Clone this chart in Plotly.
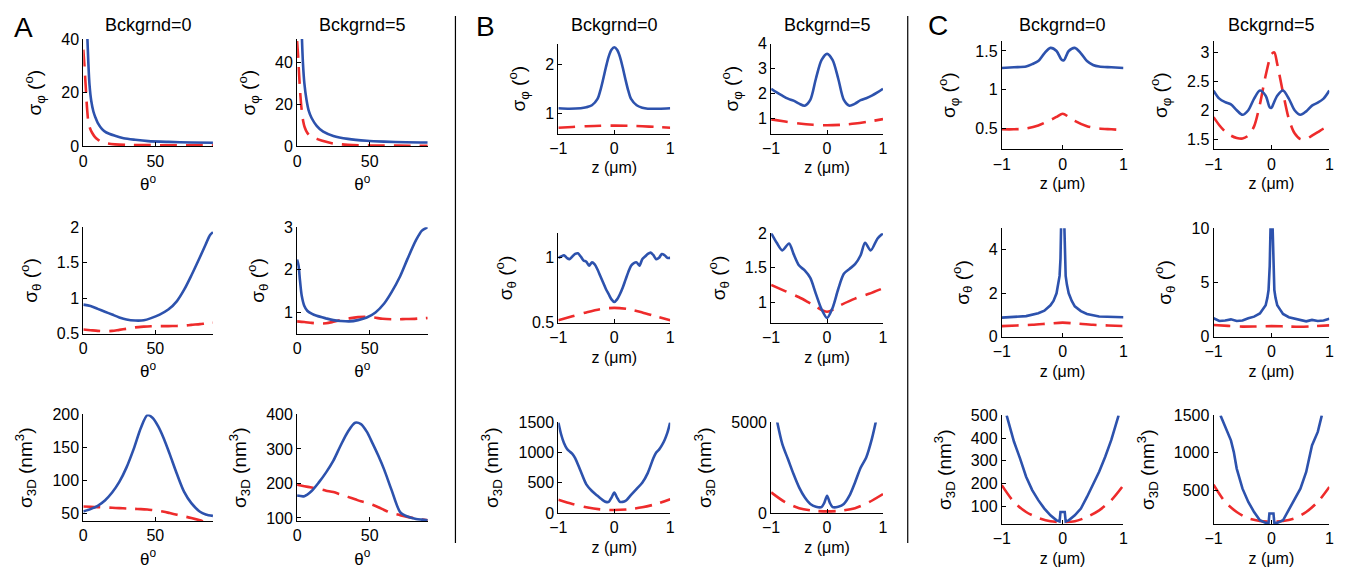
import plotly.graph_objects as go

# ---------------- DATA ----------------
# Panel A : x = theta (deg)
A_th_grid = [0, 5, 10, 15, 20, 25, 30, 36, 42, 47, 53, 59, 65, 70, 75, 81, 85, 88, 90]

A_phi0_blue_x = [2.7, 3.5, 4.3, 5.5, 7, 8.4, 10, 13, 16, 22, 28, 36, 45, 59, 75, 90]
A_phi0_blue_y = [42, 31, 23, 17, 13, 10.8, 8.8, 6.5, 5.2, 4.0, 3.1, 2.5, 2.0, 1.7, 1.5, 1.4]
A_phi0_red_x = [0, 0.8, 1.6, 2.5, 3.4, 4.5, 6, 8, 10, 13, 17, 22, 30, 45, 60, 75, 90]
A_phi0_red_y = [36, 30, 23, 15, 9.6, 7, 5.2, 3.6, 2.6, 1.6, 1.1, 0.8, 0.6, 0.5, 0.45, 0.4, 0.4]

A_phi5_blue_x = [3.3, 4, 5, 6.5, 8, 10, 13.5, 18, 25, 35, 48, 60, 75, 90]
A_phi5_blue_y = [52, 40, 30, 22, 17, 13.5, 9.8, 7.0, 5.0, 3.6, 2.7, 2.3, 2.0, 1.9]
A_phi5_red_x = [0, 0.7, 1.4, 2.2, 3.2, 4.2, 5.3, 7, 9, 14, 20, 25, 35, 50, 70, 90]
A_phi5_red_y = [50, 43, 34, 25, 17, 12, 9, 6.5, 5, 3.5, 2.2, 1.4, 0.8, 0.5, 0.4, 0.35]

A_the0_blue = [0.91, 0.89, 0.85, 0.81, 0.77, 0.73, 0.70, 0.686, 0.69, 0.72, 0.77, 0.84,
               0.96, 1.12, 1.32, 1.58, 1.76, 1.89, 1.93]
A_the0_red = [0.56, 0.55, 0.54, 0.535, 0.54, 0.555, 0.57, 0.59, 0.60, 0.605, 0.607, 0.607,
              0.61, 0.615, 0.625, 0.635, 0.645, 0.65, 0.655]

A_the5_blue_x = [0, 1, 2, 3.2, 5, 7, 10, 13.5, 20, 25, 30, 36, 42, 48, 54, 60, 65, 71, 76, 82, 86, 90]
A_the5_blue_y = [2.24, 2.1, 1.75, 1.39, 1.15, 1.04, 0.97, 0.92, 0.86, 0.82, 0.80, 0.79, 0.82,
                 0.88, 1.0, 1.21, 1.47, 1.85, 2.25, 2.7, 2.92, 3.0]
A_the5_red = [0.79, 0.775, 0.755, 0.74, 0.745, 0.78, 0.82, 0.86, 0.89, 0.9, 0.88, 0.85,
              0.84, 0.84, 0.845, 0.85, 0.86, 0.865, 0.87]

A_3d_x = [0, 5, 10, 15, 20, 25, 30, 35, 40, 44.5, 48, 52, 56, 60, 65, 70, 75, 81, 85, 90]
A_3d0_blue = [53.5, 57, 62, 70, 82, 98, 120, 148, 180, 199, 195, 182, 163, 140, 110, 83, 66, 53, 49, 46.7]
A_3d0_red = [61, 60.5, 60, 59.5, 59, 58.5, 58, 57.5, 57, 56.3, 55.5, 54.5, 53, 51, 48.5, 46, 43.5, 40, 37, 35]

A_3d5_x = [0, 5, 10, 15, 20, 25, 30, 35, 40, 44, 48, 52, 56, 60, 65, 71, 76, 82, 86, 90]
A_3d5_blue = [165, 163, 178, 203, 232, 266, 310, 350, 376, 372, 350, 316, 280, 240, 182, 117, 104, 97, 95, 93]
A_3d5_red = [196, 192, 188, 184, 179, 175, 168, 161, 154, 148, 144, 138, 131, 123, 114, 108, 103, 98, 95, 93]

# Panels B and C : x = z (um)
Z_red9 = [-1, -0.75, -0.5, -0.25, 0, 0.25, 0.5, 0.75, 1]
Z_red11 = [-1, -0.8, -0.6, -0.4, -0.2, 0, 0.2, 0.4, 0.6, 0.8, 1]

B_phi0_z = [-1, -0.8, -0.6, -0.5, -0.4, -0.3, -0.25, -0.2, -0.15, -0.1, -0.05, 0,
            0.05, 0.1, 0.15, 0.2, 0.25, 0.3, 0.4, 0.5, 0.6, 0.8, 1]
B_phi0_blue = [1.11, 1.1, 1.11, 1.13, 1.17, 1.3, 1.47, 1.7, 1.95, 2.17, 2.31, 2.36,
               2.31, 2.17, 1.95, 1.7, 1.47, 1.3, 1.17, 1.12, 1.1, 1.1, 1.11]
B_phi0_red = [0.71, 0.725, 0.74, 0.75, 0.752, 0.75, 0.74, 0.725, 0.71]

B_phi5_z = [-1, -0.9, -0.8, -0.7, -0.6, -0.5, -0.4, -0.3, -0.2, -0.1, 0,
            0.1, 0.2, 0.3, 0.4, 0.5, 0.6, 0.7, 0.8, 0.9, 1]
B_phi5_blue = [2.2, 2.05, 1.92, 1.8, 1.72, 1.6, 1.52, 1.75, 2.6, 3.35, 3.6,
               3.35, 2.6, 1.75, 1.52, 1.6, 1.74, 1.82, 1.92, 2.05, 2.2]
B_phi5_red = [0.97, 0.88, 0.8, 0.75, 0.73, 0.75, 0.8, 0.88, 0.98]

B_the0_z = [-1, -0.95, -0.9, -0.85, -0.8, -0.75, -0.7, -0.65, -0.6, -0.55, -0.5, -0.45,
            -0.4, -0.35, -0.3, -0.25, -0.2, -0.15, -0.1, -0.05, 0, 0.05, 0.1, 0.15, 0.2,
            0.25, 0.3, 0.35, 0.4, 0.45, 0.5, 0.55, 0.6, 0.65, 0.7, 0.75, 0.8, 0.85, 0.9, 0.95, 1]
B_the0_blue = [1.0, 1.01, 1.02, 1.0, 0.99, 1.01, 1.03, 1.035, 1.01, 0.98, 0.97, 0.94,
               0.965, 0.95, 0.91, 0.86, 0.81, 0.76, 0.72, 0.68, 0.66, 0.68, 0.72, 0.77, 0.83,
               0.89, 0.94, 0.96, 0.965, 0.94, 0.99, 1.01, 1.03, 1.04, 1.02, 0.99, 1.0, 1.03,
               1.02, 1.0, 1.0]
B_the0_red = [0.52, 0.55, 0.58, 0.605, 0.615, 0.605, 0.58, 0.55, 0.52]

B_the5_z = [-1, -0.9, -0.8, -0.68, -0.6, -0.5, -0.4, -0.3, -0.2, -0.1, 0,
            0.1, 0.2, 0.3, 0.4, 0.5, 0.6, 0.68, 0.78, 0.9, 1]
B_the5_blue = [2.0, 1.86, 1.75, 1.85, 1.7, 1.53, 1.46, 1.35, 1.12, 0.9, 0.77,
               0.92, 1.19, 1.41, 1.48, 1.55, 1.68, 1.86, 1.75, 1.92, 2.0]
B_the5_red = [1.25, 1.16, 1.07, 0.96, 0.86, 0.96, 1.05, 1.12, 1.2]

B_3d0_z = [-1, -0.95, -0.9, -0.85, -0.8, -0.75, -0.7, -0.6, -0.5, -0.4, -0.3, -0.2, -0.15,
           -0.1, -0.05, 0, 0.05, 0.1, 0.15, 0.2, 0.3, 0.4, 0.5, 0.6, 0.7, 0.75, 0.8, 0.85,
           0.9, 0.95, 1]
B_3d0_blue = [1500, 1300, 1160, 1070, 1020, 980, 910, 690, 475, 365, 285, 210, 185,
              185, 255, 340, 255, 185, 185, 200, 300, 400, 500, 665, 910, 1000, 1050, 1120,
              1210, 1330, 1500]
B_3d0_red = [220, 150, 95, 60, 50, 60, 95, 150, 230]

B_3d5_z = [-0.9, -0.8, -0.7, -0.6, -0.5, -0.4, -0.3, -0.2, -0.1, -0.05, 0, 0.05, 0.1,
           0.2, 0.3, 0.4, 0.5, 0.6, 0.7, 0.8, 0.88]
B_3d5_blue = [5150, 3800, 2980, 2150, 1415, 865, 500, 350, 330, 560, 950, 560, 330,
              350, 500, 955, 1690, 2500, 3070, 4080, 5150]
B_3d5_red = [1140, 600, 270, 130, 90, 130, 270, 600, 1050]

C_phi0_z = [-1, -0.8, -0.6, -0.5, -0.4, -0.3, -0.2, -0.1, -0.02, 0.02, 0.1, 0.2, 0.3,
            0.4, 0.5, 0.6, 0.8, 1]
C_phi0_blue = [1.28, 1.29, 1.30, 1.33, 1.37, 1.47, 1.54, 1.50, 1.39, 1.38, 1.50, 1.54,
               1.47, 1.37, 1.32, 1.30, 1.29, 1.28]
C_phi0_red_z = [-1, -0.8, -0.6, -0.4, -0.2, -0.1, 0, 0.1, 0.2, 0.4, 0.6, 0.8, 1]
C_phi0_red = [0.49, 0.49, 0.5, 0.54, 0.61, 0.65, 0.69, 0.65, 0.6, 0.53, 0.5, 0.49, 0.48]

C_phi5_z = [-1, -0.9, -0.8, -0.7, -0.6, -0.5, -0.4, -0.3, -0.2, -0.1, -0.03, 0, 0.03,
            0.1, 0.2, 0.3, 0.4, 0.5, 0.6, 0.7, 0.8, 0.9, 1]
C_phi5_blue = [2.34, 2.2, 2.14, 2.1, 2.0, 1.92, 2.0, 2.2, 2.34, 2.25, 2.05, 2.04, 2.1,
               2.25, 2.34, 2.2, 2.0, 1.92, 1.98, 2.08, 2.13, 2.2, 2.34]
C_phi5_red_z = [-1, -0.9, -0.8, -0.7, -0.6, -0.5, -0.4, -0.3, -0.2, -0.1, 0, 0.05, 0.1,
                0.2, 0.3, 0.4, 0.5, 0.6, 0.7, 0.8, 0.9, 1]
C_phi5_red = [1.88, 1.74, 1.63, 1.56, 1.52, 1.51, 1.56, 1.72, 2.1, 2.6, 2.97, 3.0, 2.8,
              2.3, 1.85, 1.6, 1.5, 1.5, 1.56, 1.62, 1.68, 1.72]

C_the0_z = [-1, -0.8, -0.6, -0.4, -0.3, -0.2, -0.15, -0.1, -0.07, -0.05, -0.035, -0.02, 0,
            0.02, 0.035, 0.05, 0.07, 0.1, 0.15, 0.2, 0.3, 0.4, 0.6, 0.8, 1]
C_the0_blue = [0.88, 0.9, 0.95, 1.08, 1.2, 1.45, 1.65, 2.0, 2.4, 2.8, 3.6, 6, 9,
               6, 3.6, 2.8, 2.4, 2.0, 1.65, 1.4, 1.18, 1.05, 0.93, 0.9, 0.9]
C_the0_red = [0.49, 0.52, 0.55, 0.6, 0.65, 0.6, 0.55, 0.52, 0.49]

C_the5_z = [-1, -0.9, -0.8, -0.7, -0.6, -0.5, -0.4, -0.3, -0.2, -0.15, -0.1, -0.07, -0.05,
            -0.03, -0.015, 0, 0.015, 0.03, 0.05, 0.07, 0.1, 0.15, 0.2, 0.3, 0.4, 0.5, 0.6,
            0.7, 0.8, 0.9, 1]
C_the5_blue = [1.7, 1.45, 1.5, 1.6, 1.45, 1.5, 1.7, 1.85, 2.15, 2.5, 2.9, 3.6, 4.3,
               6.5, 11, 14, 11, 6.5, 4.3, 3.6, 2.9, 2.5, 2.1, 1.8, 1.65, 1.5, 1.42,
               1.55, 1.45, 1.5, 1.65]
C_the5_red = [1.08, 1.0, 0.93, 0.95, 0.98, 0.95, 0.92, 0.98, 1.05]

C_3d0_z = [-0.92, -0.8, -0.7, -0.6, -0.5, -0.4, -0.3, -0.2, -0.1, -0.05, -0.035, 0.035,
           0.05, 0.1, 0.2, 0.3, 0.4, 0.5, 0.6, 0.7, 0.8, 0.92]
C_3d0_blue = [500, 385, 311, 230, 171, 127, 90, 60, 38, 33, 75, 75,
              33, 38, 60, 90, 141, 193, 252, 318, 392, 500]
C_3d0_red = [193, 119, 75, 49, 34, 31, 34, 53, 82, 127, 193]

C_3d5_z = [-0.88, -0.8, -0.7, -0.65, -0.6, -0.5, -0.4, -0.3, -0.2, -0.1, -0.05, -0.035,
           0.035, 0.05, 0.1, 0.2, 0.3, 0.4, 0.5, 0.6, 0.7, 0.8, 0.87]
C_3d5_blue = [1500, 1345, 1167, 1010, 790, 522, 345, 210, 100, 65, 62, 190,
              190, 62, 65, 100, 235, 390, 522, 745, 1100, 1280, 1500]
C_3d5_red = [575, 345, 210, 125, 90, 80, 90, 125, 210, 345, 545]

# Text
COL_TITLES = ["Bckgrnd=0", "Bckgrnd=5"]
PANEL_LETTERS = ["A", "B", "C"]
Y_TITLES = ["σ<sub>φ</sub> (<sup>o</sup>)", "σ<sub>θ</sub> (<sup>o</sup>)",
            "σ<sub>3D</sub> (nm<sup>3</sup>)"]
X_TITLE_A = "θ<sup>o</sup>"
X_TITLE_Z = "z (μm)"

# ---------------- FIGURE ----------------
W, H = 1360, 590            # figure size (page is photographed through a 1345x568 window)
X0, Y0, SY = 13.0, 15.0, 0.975   # measured window placement of the figure
BLUE = "#2d52ad"
RED = "#ee2b2b"
FONT = "Liberation Sans, Arial, Helvetica, sans-serif"


def px_x(x):
    return min(1.0, max(0.0, (x - X0) / W))


def px_y(y):
    return min(1.0, max(0.0, 1 - ((y - Y0) / SY) / H))


# pixel boxes (placement coords): columns (left, right) and rows (top, bottom)
COLS = {"A": [(80, 211), (296, 428)], "B": [(560, 673), (775, 888)],
        "C": [(1008, 1131), (1222, 1339)]}
ROWS = {"A": [(38, 146), (227, 334), (415, 522)], "B": [(43, 133), (233, 323), (423, 514)],
        "C": [(40, 149), (228, 337), (416, 525)]}
LETTER_POS = [(20, 27), (486, 26), (944, 25)]
SEPARATORS = [456, 913]

# (panel, row, col, blue x, blue y, red x, red y, y range, y ticks, shape)
SPECS = [
    ("A", 0, 0, A_phi0_blue_x, A_phi0_blue_y, A_phi0_red_x, A_phi0_red_y, [0, 40], [0, 20, 40], "spline"),
    ("A", 0, 1, A_phi5_blue_x, A_phi5_blue_y, A_phi5_red_x, A_phi5_red_y, [0, 51], [0, 20, 40], "spline"),
    ("A", 1, 0, A_th_grid, A_the0_blue, A_th_grid, A_the0_red, [0.5, 2], [0.5, 1, 1.5, 2], "spline"),
    ("A", 1, 1, A_the5_blue_x, A_the5_blue_y, A_th_grid, A_the5_red, [0.5, 3], [1, 2, 3], "spline"),
    ("A", 2, 0, A_3d_x, A_3d0_blue, A_3d_x, A_3d0_red, [39, 200], [50, 100, 150, 200], "spline"),
    ("A", 2, 1, A_3d5_x, A_3d5_blue, A_3d5_x, A_3d5_red, [91, 400], [100, 200, 300, 400], "spline"),
    ("B", 0, 0, B_phi0_z, B_phi0_blue, Z_red9, B_phi0_red, [0.59, 2.43], [1, 2], "spline"),
    ("B", 0, 1, B_phi5_z, B_phi5_blue, Z_red9, B_phi5_red, [0.4, 4], [1, 2, 3, 4], "spline"),
    ("B", 1, 0, B_the0_z, B_the0_blue, Z_red9, B_the0_red, [0.5, 1.19], [0.5, 1], "spline"),
    ("B", 1, 1, B_the5_z, B_the5_blue, Z_red9, B_the5_red, [0.7, 2], [1, 1.5, 2], "spline"),
    ("B", 2, 0, B_3d0_z, B_3d0_blue, Z_red9, B_3d0_red, [0, 1500], [0, 500, 1000, 1500], "spline"),
    ("B", 2, 1, B_3d5_z, B_3d5_blue, Z_red9, B_3d5_red, [0, 5000], [0, 5000], "spline"),
    ("C", 0, 0, C_phi0_z, C_phi0_blue, C_phi0_red_z, C_phi0_red, [0.23, 1.63], [0.5, 1, 1.5], "spline"),
    ("C", 0, 1, C_phi5_z, C_phi5_blue, C_phi5_red_z, C_phi5_red, [1.32, 3.2], [1.5, 2, 2.5, 3], "spline"),
    ("C", 1, 0, C_the0_z, C_the0_blue, Z_red9, C_the0_red, [0, 5], [0, 2, 4], "linear"),
    ("C", 1, 1, C_the5_z, C_the5_blue, Z_red9, C_the5_red, [0, 10], [0, 5, 10], "linear"),
    ("C", 2, 0, C_3d0_z, C_3d0_blue, Z_red11, C_3d0_red, [22, 500], [100, 200, 300, 400, 500], "linear"),
    ("C", 2, 1, C_3d5_z, C_3d5_blue, Z_red11, C_3d5_red, [50, 1500], [500, 1000, 1500], "linear"),
]

fig = go.Figure()
layout = dict(width=W, height=H, margin=dict(l=0, r=0, t=0, b=0, pad=0),
              paper_bgcolor="white", plot_bgcolor="white", showlegend=False,
              font=dict(family=FONT, size=16, color="black"))

axis_common = dict(showline=True, linecolor="black", linewidth=1, mirror=False,
                   ticks="inside", ticklen=4, tickcolor="black", showgrid=False,
                   zeroline=False, tickfont=dict(family=FONT, size=16, color="black"),
                   fixedrange=True)


def fmt(v):
    return ("%g" % v)


for i, (p, r, c, bx, by, rx, ry, yr, yt, shape) in enumerate(SPECS, start=1):
    l, rr = COLS[p][c]
    t, b = ROWS[p][r]
    xa = "x" if i == 1 else "x%d" % i
    ya = "y" if i == 1 else "y%d" % i
    xkey = "xaxis" if i == 1 else "xaxis%d" % i
    ykey = "yaxis" if i == 1 else "yaxis%d" % i
    if p == "A":
        xr, xt, xtitle, xts, xso = [0, 90], [0, 50], X_TITLE_A, 17, 9
    else:
        xr, xt, xtitle, xts, xso = [-1, 1], [-1, 0, 1], X_TITLE_Z, 16, 6
    layout[xkey] = dict(axis_common, domain=[px_x(l), px_x(rr)], anchor=ya, range=xr,
                        tickvals=xt, ticktext=[fmt(v).replace("-", "−") for v in xt],
                        title=dict(text=xtitle, standoff=xso, font=dict(size=xts)))
    layout[ykey] = dict(axis_common, domain=[px_y(b), px_y(t)], anchor=xa, range=yr,
                        tickvals=yt, ticktext=[fmt(v) for v in yt],
                        title=dict(text=Y_TITLES[r], standoff=14, font=dict(size=19)))
    red_line = dict(color=RED, width=2.6, dash="17px,9px", shape="spline", smoothing=0.8)
    blue_line = dict(color=BLUE, width=2.6, shape=shape)
    if shape == "spline":
        blue_line["smoothing"] = 0.8
    fig.add_trace(go.Scatter(x=rx, y=ry, mode="lines", xaxis=xa, yaxis=ya,
                             line=red_line, hoverinfo="skip"))
    fig.add_trace(go.Scatter(x=bx, y=by, mode="lines", xaxis=xa, yaxis=ya,
                             line=blue_line, hoverinfo="skip"))

annotations = []
for p, (lx, ly) in zip(PANEL_LETTERS, LETTER_POS):
    annotations.append(dict(text=p, x=px_x(lx), y=px_y(ly), xref="paper", yref="paper",
                            showarrow=False, font=dict(family=FONT, size=28, color="black"),
                            xanchor="center", yanchor="middle"))
for p in PANEL_LETTERS:
    for c in range(2):
        l, rr = COLS[p][c]
        annotations.append(dict(text=COL_TITLES[c], x=px_x((l + rr) / 2), y=px_y(24),
                                xref="paper", yref="paper", showarrow=False,
                                font=dict(family=FONT, size=18, color="black"),
                                xanchor="center", yanchor="middle"))
layout["annotations"] = annotations
layout["shapes"] = [dict(type="line", xref="paper", yref="paper", x0=px_x(xs), x1=px_x(xs),
                         y0=px_y(13), y1=px_y(544), line=dict(color="black", width=1.2))
                    for xs in SEPARATORS]

fig.update_layout(**layout)
fig.write_html("out.html")
